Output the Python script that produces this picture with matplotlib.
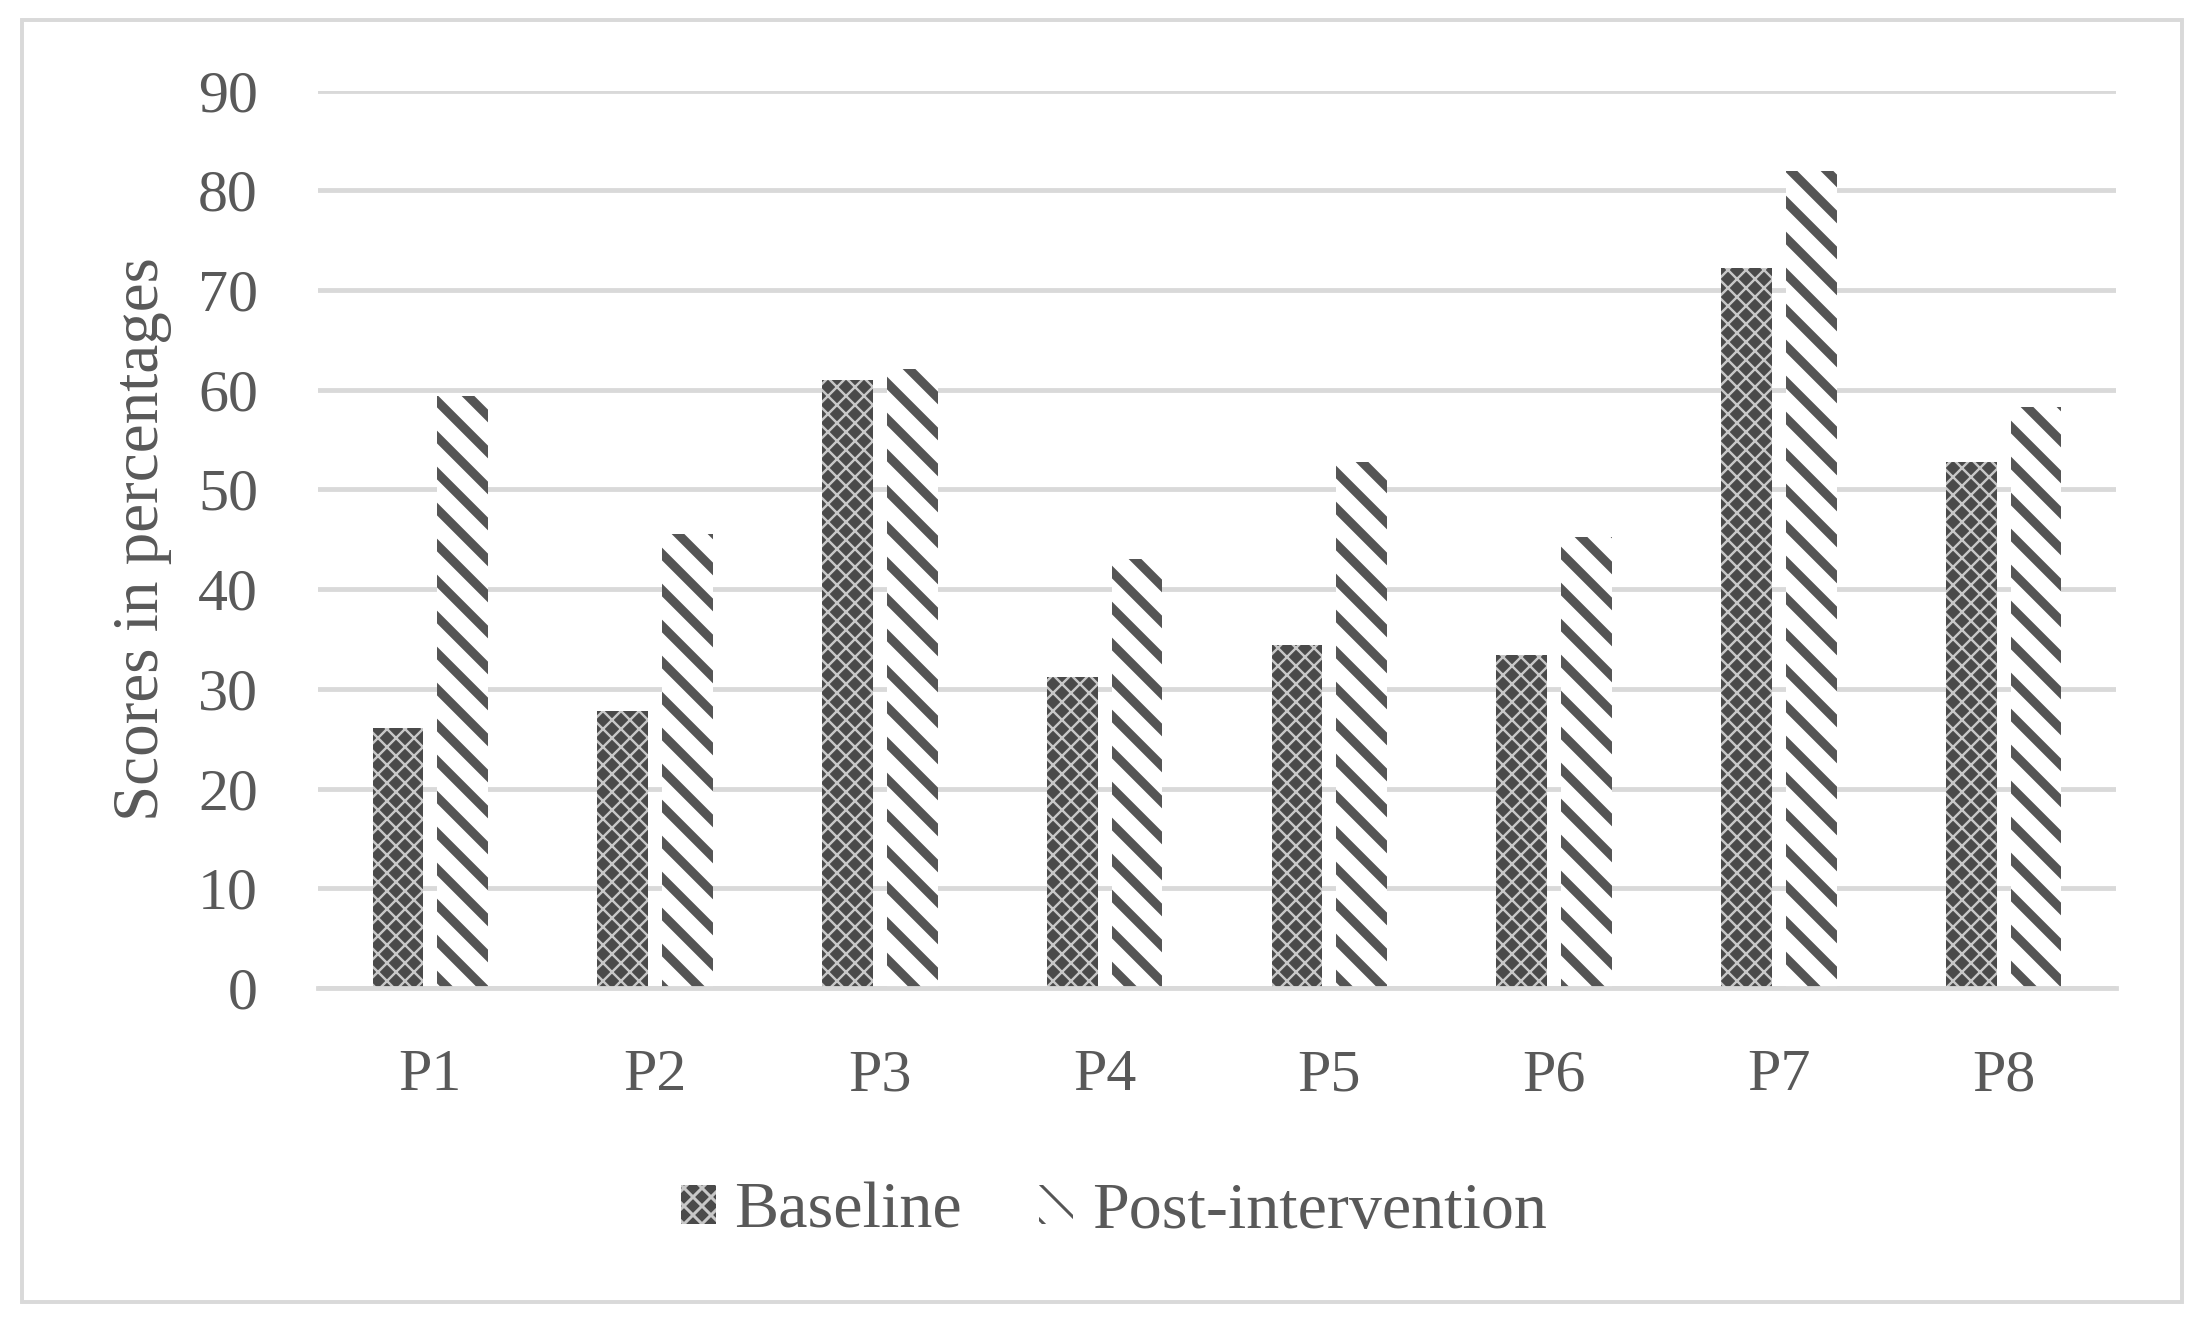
import numpy as np
import matplotlib.pyplot as plt
from matplotlib.patches import Rectangle

participants = ["P1", "P2", "P3", "P4", "P5", "P6", "P7", "P8"]
baseline = [26.1, 27.8, 61.0, 31.2, 34.4, 33.4, 72.2, 52.8]
post_intervention = [59.4, 45.5, 62.1, 43.0, 52.8, 45.2, 81.9, 58.3]
yticks = [0, 10, 20, 30, 40, 50, 60, 70, 80, 90]

text_col = "#595959"
grid_col = "#d9d9d9"
plt.rcParams["font.family"] = ["Liberation Serif", "DejaVu Serif"]

DPI = 216
fig = plt.figure(figsize=(2205 / DPI, 1325 / DPI), dpi=DPI)
ax = fig.add_axes([318 / 2205, 1 - 988 / 1325, 1798 / 2205, 897.3 / 1325])

x = np.arange(len(participants))
w = 0.225
off = 0.144

b1 = ax.bar(x - off, baseline, w, color="#4a4a4a", edgecolor="#c8c8c8",
            hatch="xxxx", linewidth=0, label="Baseline")
b2 = ax.bar(x + off, post_intervention, w, color="white", edgecolor="#555555",
            hatch="\\\\", linewidth=0, label="Post-intervention")
for p in b1:
    if hasattr(p, "set_hatch_linewidth"):
        p.set_hatch_linewidth(0.8)
for p in b2:
    if hasattr(p, "set_hatch_linewidth"):
        p.set_hatch_linewidth(3.0)

ax.set_xlim(-0.5, len(participants) - 0.5)
ax.set_ylim(0, 90)
ax.set_yticks(yticks)
ax.set_xticks(x)
ax.set_xticklabels(participants)
ax.tick_params(axis="both", length=0, labelsize=20, colors=text_col)
ax.tick_params(axis="y", pad=20)
ax.tick_params(axis="x", pad=20.5)

ax.grid(axis="y", color=grid_col, linewidth=1.6)
ax.set_axisbelow(True)
for s in ["top", "right", "left"]:
    ax.spines[s].set_visible(False)
ax.spines["bottom"].set_color(grid_col)
ax.spines["bottom"].set_linewidth(1.6)

ax.set_ylabel("Scores in percentages", fontsize=21.7, color=text_col)
ax.yaxis.set_label_coords(-0.081, 0.5)

fig.legend(handles=[b1, b2], loc="center", bbox_to_anchor=(1114 / 2205, 1 - 1212 / 1325),
           ncol=2, frameon=False, fontsize=22, labelcolor=text_col,
           handlelength=0.52, handleheight=0.52, handletextpad=0.28, columnspacing=1.17)

fig.patches.append(Rectangle((22 / 2205, 1 - 1302 / 1325), 2160 / 2205, 1282 / 1325,
                             transform=fig.transFigure, fill=False,
                             edgecolor=grid_col, linewidth=1.3))

fig.savefig("out.png", dpi=DPI)
